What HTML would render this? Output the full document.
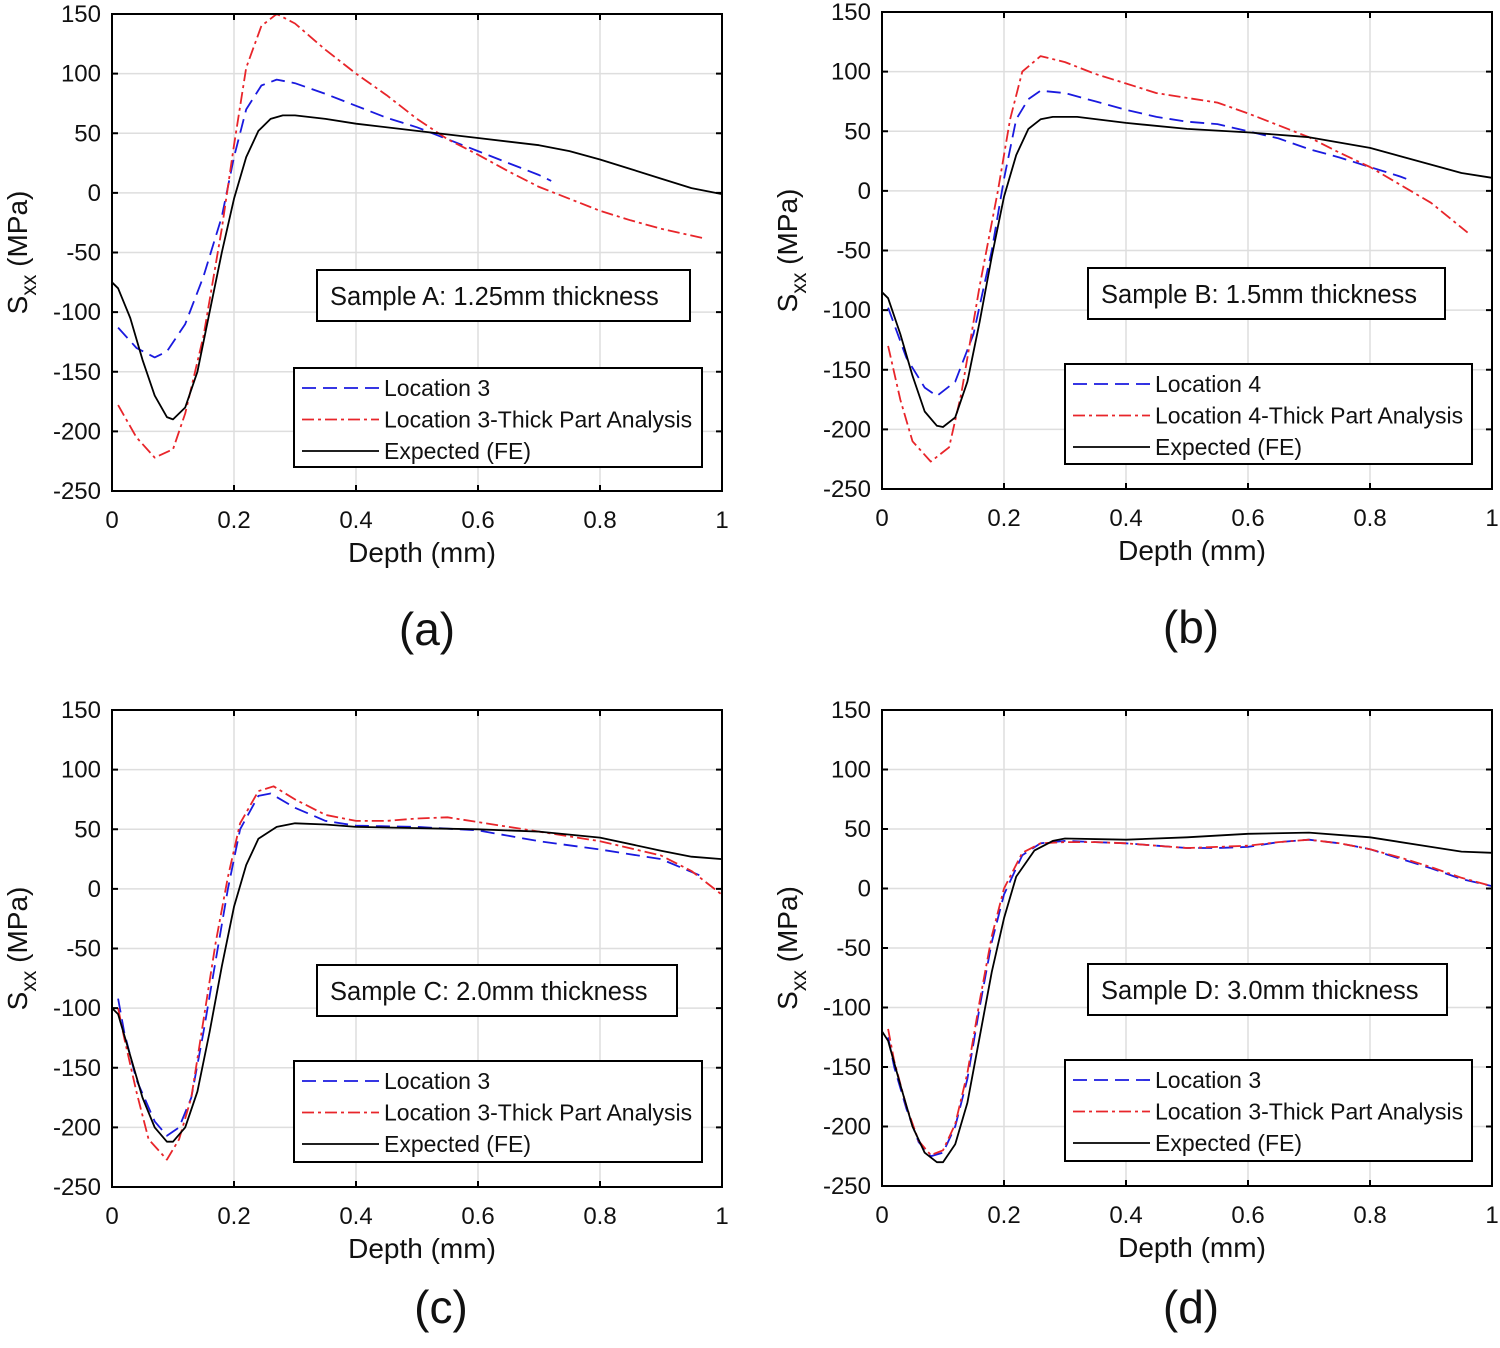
<!DOCTYPE html>
<html><head><meta charset="utf-8"><style>
html,body{margin:0;padding:0;background:#fff}
svg{display:block}
text{font-family:"Liberation Sans",Arial,sans-serif;fill:#111}
</style></head><body>
<svg id="fig" width="1500" height="1348" viewBox="0 0 1500 1348" xmlns="http://www.w3.org/2000/svg"></svg>
<script>
// ---- data ----
const xTicks=[0,0.2,0.4,0.6,0.8,1];
const xTickLabels=["0","0.2","0.4","0.6","0.8","1"];
const yTicks=[150,100,50,0,-50,-100,-150,-200,-250];
const yTickLabels=["150","100","50","0","-50","-100","-150","-200","-250"];

const aBlueX=[0.01,0.04,0.07,0.09,0.12,0.15,0.18,0.2,0.22,0.245,0.27,0.3,0.35,0.4,0.45,0.5,0.55,0.6,0.65,0.7,0.72];
const aBlueY=[-113,-130,-138,-133,-110,-70,-20,30,70,90,95,92,83,73,63,55,45,35,25,15,10];
const aRedX=[0.01,0.04,0.07,0.1,0.12,0.15,0.18,0.2,0.22,0.245,0.27,0.3,0.35,0.4,0.45,0.5,0.55,0.6,0.65,0.7,0.75,0.8,0.85,0.9,0.97];
const aRedY=[-178,-205,-222,-215,-185,-120,-30,40,105,140,150,142,120,100,82,62,45,32,18,5,-5,-15,-23,-30,-38];
const aBlkX=[0,0.01,0.03,0.05,0.07,0.09,0.1,0.12,0.14,0.16,0.18,0.2,0.22,0.24,0.26,0.28,0.3,0.35,0.4,0.5,0.6,0.7,0.75,0.8,0.85,0.9,0.95,1];
const aBlkY=[-75,-80,-105,-140,-170,-188,-190,-180,-150,-100,-50,-5,30,52,62,65,65,62,58,52,46,40,35,28,20,12,4,-1];

const bBlueX=[0.01,0.04,0.07,0.09,0.12,0.15,0.18,0.2,0.22,0.24,0.26,0.3,0.35,0.4,0.45,0.5,0.55,0.6,0.65,0.7,0.75,0.8,0.85,0.87];
const bBlueY=[-98,-140,-165,-172,-160,-120,-50,10,60,77,84,82,75,68,62,58,56,50,44,35,28,20,12,8];
const bRedX=[0.01,0.03,0.05,0.08,0.11,0.13,0.16,0.19,0.21,0.23,0.26,0.3,0.35,0.4,0.45,0.5,0.55,0.6,0.65,0.7,0.75,0.8,0.85,0.9,0.96];
const bRedY=[-130,-175,-210,-227,-215,-170,-80,0,60,100,113,108,98,90,82,78,74,65,55,45,32,20,5,-10,-35];
const bBlkX=[0,0.01,0.03,0.05,0.07,0.09,0.1,0.12,0.14,0.16,0.18,0.2,0.22,0.24,0.26,0.28,0.32,0.4,0.5,0.6,0.7,0.8,0.9,0.95,1];
const bBlkY=[-85,-90,-120,-155,-185,-197,-198,-190,-160,-110,-55,-5,30,52,60,62,62,57,52,49,45,36,22,15,11];

const cBlueX=[0.01,0.02,0.04,0.07,0.09,0.11,0.13,0.15,0.17,0.19,0.21,0.24,0.26,0.3,0.35,0.4,0.5,0.6,0.7,0.8,0.9,0.97];
const cBlueY=[-92,-120,-160,-195,-207,-200,-175,-120,-60,0,50,78,80,68,57,53,52,49,40,33,25,10];
const cRedX=[0.01,0.02,0.04,0.06,0.09,0.11,0.13,0.15,0.17,0.19,0.21,0.24,0.265,0.3,0.35,0.4,0.45,0.5,0.55,0.6,0.7,0.8,0.9,0.95,1];
const cRedY=[-100,-125,-170,-210,-227,-210,-175,-110,-45,10,55,82,86,75,62,57,57,59,60,56,48,40,28,15,-5];
const cBlkX=[0,0.01,0.03,0.05,0.07,0.09,0.1,0.12,0.14,0.16,0.18,0.2,0.22,0.24,0.27,0.3,0.35,0.4,0.5,0.6,0.7,0.8,0.9,0.95,1];
const cBlkY=[-100,-105,-140,-175,-200,-212,-212,-200,-170,-120,-65,-15,20,42,52,55,54,52,51,50,48,43,32,27,25];

const dBlueX=[0.01,0.02,0.04,0.06,0.08,0.1,0.12,0.14,0.16,0.18,0.2,0.23,0.26,0.3,0.35,0.4,0.45,0.5,0.55,0.6,0.65,0.7,0.75,0.8,0.85,0.9,0.95,1];
const dBlueY=[-125,-150,-185,-213,-225,-222,-200,-160,-100,-45,-5,28,38,40,39,38,36,34,34,35,39,41,38,33,25,17,8,2];
const dRedX=[0.01,0.02,0.04,0.06,0.08,0.1,0.12,0.14,0.16,0.18,0.2,0.23,0.26,0.3,0.35,0.4,0.45,0.5,0.55,0.6,0.65,0.7,0.75,0.8,0.85,0.9,0.95,1];
const dRedY=[-118,-145,-183,-212,-224,-220,-198,-155,-95,-40,0,30,38,39,39,38,36,34,35,36,39,41,38,33,26,18,9,2];
const dBlkX=[0,0.01,0.03,0.05,0.07,0.09,0.1,0.12,0.14,0.16,0.18,0.2,0.22,0.25,0.28,0.3,0.4,0.5,0.6,0.7,0.8,0.9,0.95,1];
const dBlkY=[-120,-128,-165,-200,-222,-230,-230,-215,-180,-125,-70,-25,10,32,40,42,41,43,46,47,43,35,31,30];

const panels=[
 {id:"a",L:112,R:722,T:14,B:491,cap:"(a)",capX:427,capY:645,title:"Sample A: 1.25mm thickness",tb:[317,270,373,51],lg:[294,368,408,99],loc:"Location 3",
  blue:[aBlueX,aBlueY],red:[aRedX,aRedY],blk:[aBlkX,aBlkY]},
 {id:"b",L:882,R:1492,T:12,B:489,cap:"(b)",capX:1191,capY:643,title:"Sample B: 1.5mm thickness",tb:[1088,268,357,51],lg:[1065,364,407,100],loc:"Location 4",
  blue:[bBlueX,bBlueY],red:[bRedX,bRedY],blk:[bBlkX,bBlkY]},
 {id:"c",L:112,R:722,T:710,B:1187,cap:"(c)",capX:441,capY:1323,title:"Sample C: 2.0mm thickness",tb:[317,965,360,51],lg:[294,1061,408,101],loc:"Location 3",
  blue:[cBlueX,cBlueY],red:[cRedX,cRedY],blk:[cBlkX,cBlkY]},
 {id:"d",L:882,R:1492,T:710,B:1186,cap:"(d)",capX:1191,capY:1323,title:"Sample D: 3.0mm thickness",tb:[1088,964,359,51],lg:[1065,1060,407,101],loc:"Location 3",
  blue:[dBlueX,dBlueY],red:[dRedX,dRedY],blk:[dBlkX,dBlkY]}
];
const NS="http://www.w3.org/2000/svg";
const svg=document.getElementById("fig");
function mk(tag,attrs,parent,txt){const e=document.createElementNS(NS,tag);for(const k in attrs)e.setAttribute(k,attrs[k]);if(txt!==undefined)e.textContent=txt;(parent||svg).appendChild(e);return e;}
const styles={blue:{stroke:"#1a1adf",dash:"14,7"},red:{stroke:"#e8252a",dash:"12,4,3,4"},blk:{stroke:"#000",dash:""}};
panels.forEach(p=>{
 const g=mk("g",{});
 
 
 const sx=v=>p.L+(v-0)*(p.R-p.L)/1;
 const sy=v=>p.T+(150-v)*(p.B-p.T)/400;
 xTicks.forEach(t=>{const l=mk("line",{x1:sx(t),x2:sx(t),y1:p.T,y2:p.B,stroke:"#dedede","stroke-width":1.5},g);
  });
 yTicks.forEach(t=>{const l=mk("line",{x1:p.L,x2:p.R,y1:sy(t),y2:sy(t),stroke:"#dedede","stroke-width":1.5},g);
  });
 [["blue","location-line"],["red","thick-part-line"],["blk","expected-fe-line"]].forEach(([k,n])=>{
  const [xs,ys]=p[k];const d=xs.map((x,i)=>(i?"L":"M")+sx(x).toFixed(1)+","+sy(ys[i]).toFixed(1)).join("");
  const pa=mk("path",{d:d,fill:"none",stroke:styles[k].stroke,"stroke-width":1.8,"stroke-dasharray":styles[k].dash,"stroke-linejoin":"round"},g);
  
 });
 const bx=mk("rect",{x:p.L,y:p.T,width:p.R-p.L,height:p.B-p.T,fill:"none",stroke:"#000","stroke-width":2},g);
 
 xTicks.forEach((t,i)=>{
  mk("line",{x1:sx(t),x2:sx(t),y1:p.B,y2:p.B-6,stroke:"#000","stroke-width":2},g);
  mk("line",{x1:sx(t),x2:sx(t),y1:p.T,y2:p.T+6,stroke:"#000","stroke-width":2},g);
  const tx=mk("text",{x:sx(t),y:p.B+37,"text-anchor":"middle","font-size":24},g,xTickLabels[i]);
  
 });
 yTicks.forEach((t,i)=>{
  mk("line",{x1:p.L,x2:p.L+6,y1:sy(t),y2:sy(t),stroke:"#000","stroke-width":2},g);
  mk("line",{x1:p.R,x2:p.R-6,y1:sy(t),y2:sy(t),stroke:"#000","stroke-width":2},g);
  const ty=mk("text",{x:p.L-11,y:sy(t)+8,"text-anchor":"end","font-size":24},g,yTickLabels[i]);
  
 });
 const xt=mk("text",{x:(p.L+p.R)/2+5,y:p.B+71,"text-anchor":"middle","font-size":28},g,"Depth (mm)");
 
 const yc=(p.T+p.B)/2;
 const yt=mk("text",{x:0,y:0,"text-anchor":"middle","font-size":28,transform:`translate(${p.L-85},${yc}) rotate(-90)`},g);
 
 mk("tspan",{},yt,"S");mk("tspan",{dy:9,"font-size":21},yt,"xx");mk("tspan",{dy:-9},yt," (MPa)");
 const tb=p.tb;
 const tr=mk("rect",{x:tb[0],y:tb[1],width:tb[2],height:tb[3],fill:"#fff",stroke:"#000","stroke-width":2},g);
 
 const tt=mk("text",{x:tb[0]+13,y:tb[1]+35,"font-size":25.5},g,p.title);
 
 const lg=p.lg;
 const lr=mk("rect",{x:lg[0],y:lg[1],width:lg[2],height:lg[3],fill:"#fff",stroke:"#000","stroke-width":2},g);
 
 const names=[p.loc,p.loc+"-Thick Part Analysis","Expected (FE)"];
 ["blue","red","blk"].forEach((k,i)=>{
  const yy=lg[1]+20+i*31.5;
  mk("line",{x1:lg[0]+8,x2:lg[0]+85,y1:yy,y2:yy,stroke:styles[k].stroke,"stroke-width":1.8,"stroke-dasharray":styles[k].dash},g);
  const le=mk("text",{x:lg[0]+90,y:yy+8,"font-size":23},g,names[i]);
  
 });
 const cp=mk("text",{x:p.capX,y:p.capY,"text-anchor":"middle","font-size":46},g,p.cap);
 
});
</script>
</body></html>
